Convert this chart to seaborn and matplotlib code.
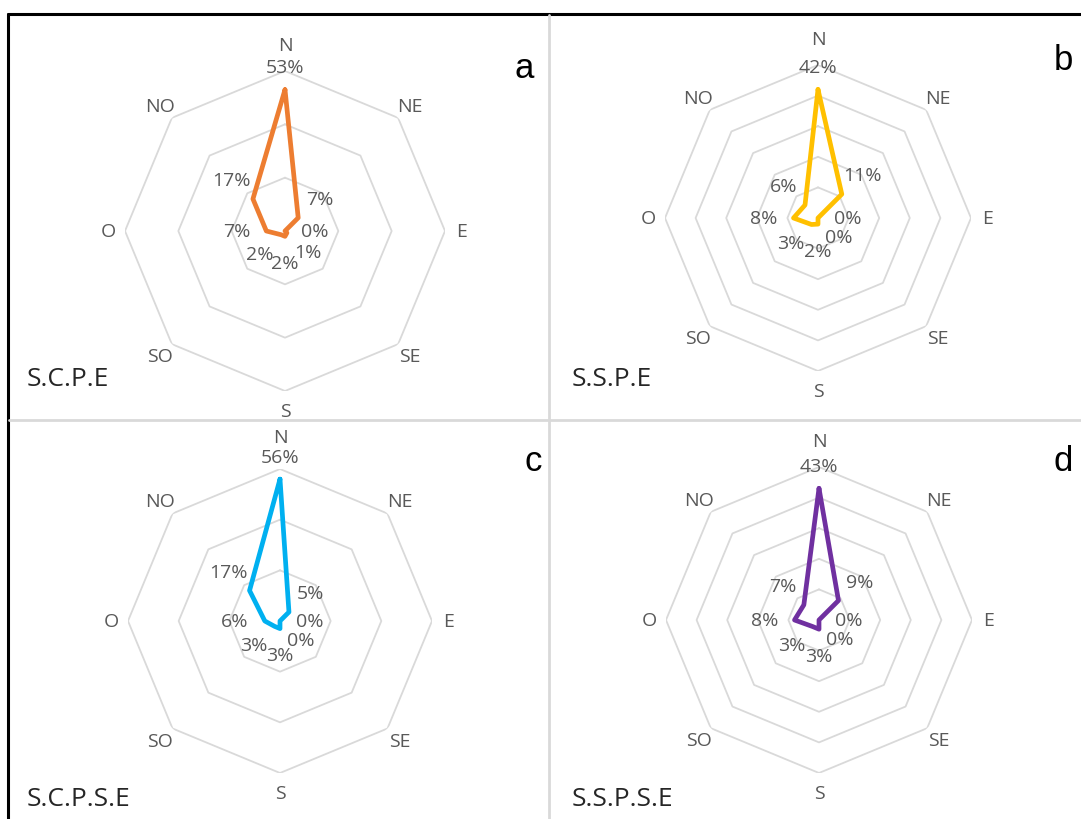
import numpy as np
import pandas as pd
import matplotlib
matplotlib.use("Agg")
import matplotlib.pyplot as plt
from matplotlib.lines import Line2D
import seaborn as sns

# ---------------- data ----------------
directions = ["N", "NE", "E", "SE", "S", "SO", "O", "NO"]
scpe_values = [53, 7, 0, 1, 2, 2, 7, 17]
sspe_values = [42, 11, 0, 0, 2, 3, 8, 6]
scpse_values = [56, 5, 0, 0, 3, 3, 6, 17]
sspse_values = [43, 9, 0, 0, 3, 3, 8, 7]
panel_names = ["S.C.P.E", "S.S.P.E", "S.C.P.S.E", "S.S.P.S.E"]
panel_letters = ["a", "b", "c", "d"]
panel_colors = ["#ED7D31", "#FFC000", "#00B0F0", "#7030A0"]
axis_max = [60, 50, 60, 50]
ring_step = [20, 10, 20, 10]

sns.set_theme(style="white")
plt.rcParams["font.family"] = ["Open Sans", "DejaVu Sans"]

W, H = 1081, 820
fig = plt.figure(figsize=(W / 100, H / 100), dpi=100)
fig.patch.set_facecolor("white")

# panel geometry in pixels: centre x, centre y, radius
geom = [(285, 232, 160), (818, 219, 153), (280, 622, 152), (819, 621, 153)]
name_pos = [(27, 380), (572, 380), (27, 800), (572, 800)]
letter_pos = [(524, 68), (1063, 60), (533, 462), (1063, 462)]

values_all = [scpe_values, sspe_values, scpse_values, sspse_values]
n = len(directions)
theta = np.arange(n) * 2 * np.pi / n
grid_color = "#D9D9D9"
text_gray = "#595959"

for i in range(4):
    cx, cy, R = geom[i]
    ax = fig.add_axes([(cx - R) / W, 1 - (cy + R) / H, 2 * R / W, 2 * R / H],
                      projection="polar")
    ax.set_theta_zero_location("N")
    ax.set_theta_direction(-1)
    ax.set_facecolor("none")
    ax.grid(False)
    rmax = axis_max[i]

    # octagonal rings
    th_closed = np.append(theta, theta[0])
    for lvl in np.arange(ring_step[i], rmax + 0.1, ring_step[i]):
        ax.plot(th_closed, np.full(n + 1, lvl), color=grid_color, lw=1.3, zorder=1)

    vals = values_all[i]
    df = pd.DataFrame({
        "theta": np.append(theta, theta[0]),
        "value": vals + [vals[0]],
    })
    sns.lineplot(data=df, x="theta", y="value", sort=False, estimator=None,
                 color=panel_colors[i], lw=3.4, ax=ax, zorder=3)
    ax.set_xlabel("")
    ax.set_ylabel("")
    ax.set_xticks([])
    ax.set_yticks([])
    ax.spines["polar"].set_visible(False)
    ax.set_ylim(0, rmax)

    # data labels
    off = 21.5  # points
    for t, v in zip(theta, vals):
        dx = np.sin(t) * off
        dy = np.cos(t) * off * (0.75 if np.cos(t) > 0.99 else 0.9)
        ax.annotate(f"{v}%", xy=(t, v), xytext=(dx, dy), textcoords="offset points",
                    ha="center", va="center", fontsize=14, color=text_gray, zorder=4)

    # category labels (N kept clear of the peak's value label)
    peak_px = vals[0] / rmax * R
    for t, lab in zip(theta, directions):
        if lab == "N":
            dist = max(R + 26, peak_px + 42)
        elif lab == "S":
            dist = R + 20
        else:
            dist = R + 17
        rr = rmax * dist / R
        ax.text(t, rr, lab, ha="center", va="center", fontsize=14,
                color=text_gray, clip_on=False)

    # panel name and letter
    fig.text(name_pos[i][0] / W, 1 - name_pos[i][1] / H, panel_names[i],
             ha="left", va="center", fontsize=19, color="#262626")
    fig.text(letter_pos[i][0] / W, 1 - letter_pos[i][1] / H, panel_letters[i],
             ha="center", va="center", fontsize=25, color="black",
             family=["Liberation Sans", "DejaVu Sans"])

# frame lines
fig.add_artist(Line2D([8 / W, 8 / W], [0, 1 - 15 / H], color="black", lw=2.2,
                      transform=fig.transFigure))
fig.add_artist(Line2D([8 / W, 1], [1 - 15 / H, 1 - 15 / H], color="black", lw=2.2,
                      transform=fig.transFigure))
fig.add_artist(Line2D([549 / W, 549 / W], [0, 1 - 16 / H], color=grid_color, lw=2,
                      transform=fig.transFigure))
fig.add_artist(Line2D([9 / W, 1], [1 - 421 / H, 1 - 421 / H], color=grid_color, lw=2,
                      transform=fig.transFigure))

fig.savefig("out.png", dpi=100, facecolor="white")
